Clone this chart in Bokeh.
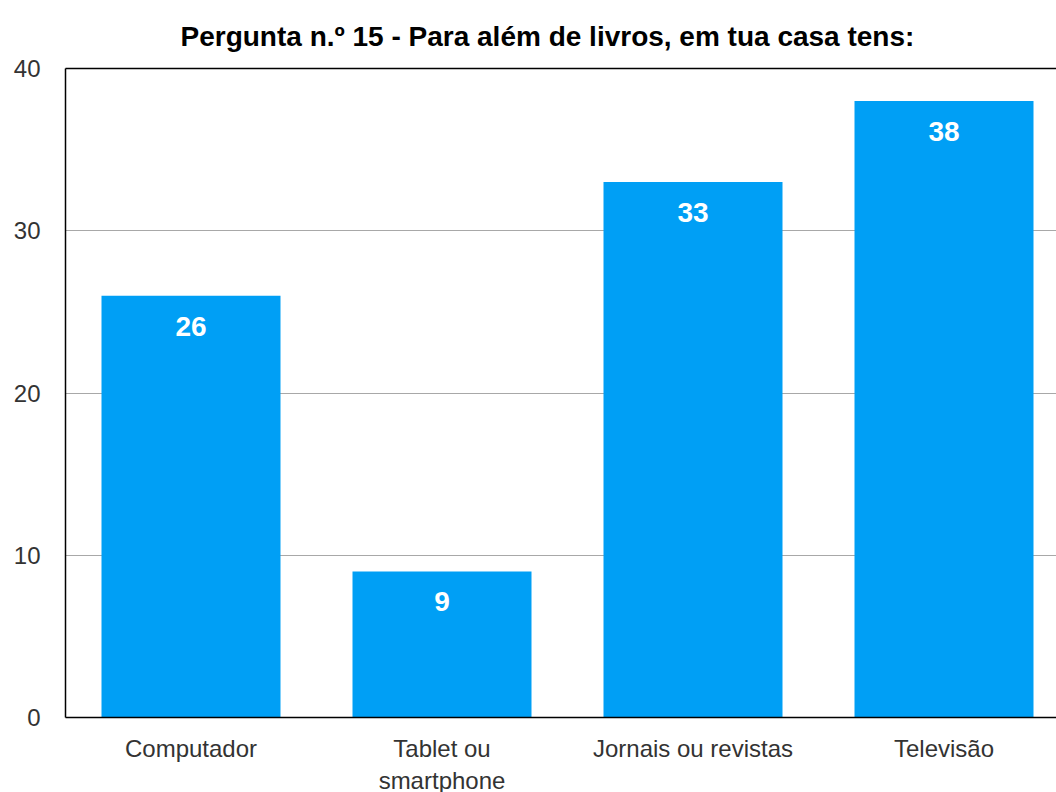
from bokeh.plotting import figure
from bokeh.models import Range1d, FixedTicker, ColumnDataSource, LinearAxis
from bokeh.core.properties import value
from bokeh.embed import file_html
from bokeh.resources import INLINE

categories = ["Computador", "Tablet ou\nsmartphone", "Jornais ou revistas", "Televisão"]
counts = [26, 9, 33, 38]
y_ticks = [0, 10, 20, 30, 40]
title_text = "Pergunta n.º 15 - Para além de livros, em tua casa tens:"

FONT = "Liberation Sans"
xs = [i + 0.5 for i in range(len(categories))]

FW, FH = 991, 649
p = figure(frame_width=FW, frame_height=FH, output_backend="svg", toolbar_location=None,
           x_range=Range1d(0, FW / 251), y_range=Range1d(0, 40),
           min_border_left=65, min_border_right=0, min_border_top=68, min_border_bottom=75)

p.title.text = title_text
p.title.text_font = FONT
p.title.text_font_size = "28px"
p.title.text_font_style = "bold"
p.title.text_color = "#000000"
p.title.align = "left"
p.title.offset = 115
p.title.vertical_align = "bottom"
p.title.standoff = 33

src = ColumnDataSource(dict(x=xs, top=counts, label=[str(c) for c in counts]))
p.vbar(x="x", top="top", width=179 / 251, bottom=0, source=src,
       fill_color="#009FF5", line_color=None)
p.text(x="x", y="top", text="label", source=src, text_color="white",
       text_align="center", text_baseline="top", y_offset=21,
       text_font=value(FONT), text_font_size="28px", text_font_style="bold")

p.outline_line_color = None
p.background_fill_color = "white"
p.border_fill_color = "white"

p.xgrid.grid_line_color = None
p.ygrid.grid_line_color = "#a8a8a8"
p.ygrid.ticker = FixedTicker(ticks=y_ticks)

p.yaxis.ticker = FixedTicker(ticks=y_ticks)
p.yaxis.axis_line_color = "black"
p.yaxis.axis_line_width = 1.5
p.yaxis.major_tick_line_color = None
p.yaxis.major_tick_out = 0
p.yaxis.minor_tick_line_color = None
p.yaxis.major_label_text_font = FONT
p.yaxis.major_label_text_font_size = "24px"
p.yaxis.major_label_text_color = "#333333"
p.yaxis.major_label_standoff = 25

xa = p.below[0]
xa.ticker = FixedTicker(ticks=xs)
xa.major_label_overrides = {x: c for x, c in zip(xs, categories)}
xa.axis_line_color = "black"
xa.axis_line_width = 1.5
xa.major_tick_line_color = None
xa.major_tick_out = 0
xa.minor_tick_line_color = None
xa.major_label_text_font = FONT
xa.major_label_text_font_size = "24px"
xa.major_label_text_color = "#333333"
xa.major_label_standoff = 17

top_axis = LinearAxis(ticker=FixedTicker(ticks=[]), axis_line_color="black", axis_line_width=1.5,
                      major_tick_line_color=None, minor_tick_line_color=None,
                      major_tick_out=0, major_label_text_font_size="0px")
p.add_layout(top_axis, "above")

open("out.html", "w").write(file_html(p, INLINE))
